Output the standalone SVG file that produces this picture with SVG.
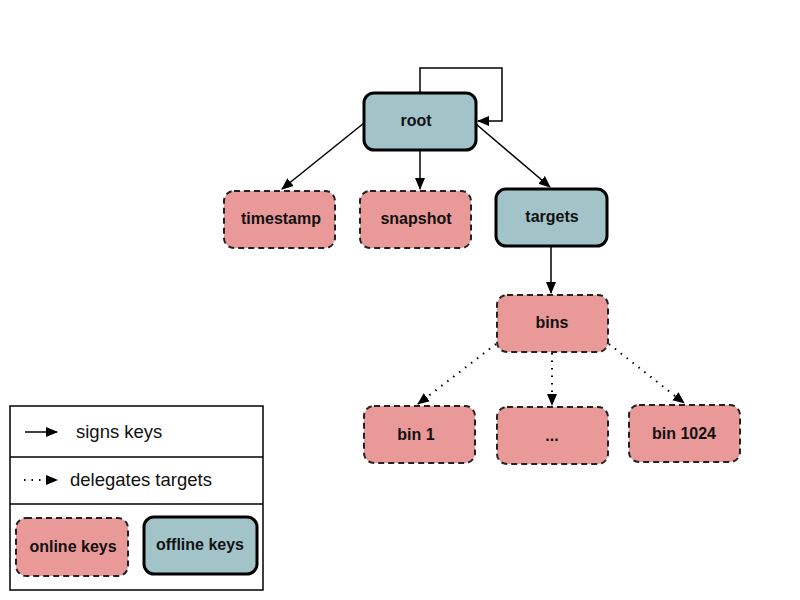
<svg xmlns="http://www.w3.org/2000/svg" width="800" height="600" viewBox="0 0 800 600">
<defs>
<marker id="ah" markerWidth="12" markerHeight="12" refX="11" refY="6" orient="auto" markerUnits="userSpaceOnUse">
<path d="M0,1 L12,6 L0,11 Z" fill="#000"/>
</marker>
<style>
.online{fill:#ea9999;stroke:#222;stroke-width:2;stroke-dasharray:6,4}
.offline{fill:#a2c4c9;stroke:#000;stroke-width:3}
.lbl{font-family:"Liberation Sans",Arial,sans-serif;font-size:16px;font-weight:bold;fill:#111;text-anchor:middle}
.leg{font-family:"Liberation Sans",Arial,sans-serif;font-size:18.5px;fill:#111}
.edge{stroke:#000;stroke-width:1.5;fill:none;marker-end:url(#ah)}
.dot{stroke:#000;stroke-width:2;fill:none;stroke-dasharray:1.5,6;marker-end:url(#ah)}
</style>
</defs>
<rect width="800" height="600" fill="#fff"/>
<g id="connectors">
<path class="edge" d="M420,93 V68 H502 V121 H478"/>
<line class="edge" x1="364" y1="123" x2="282" y2="189"/>
<line class="edge" x1="420" y1="151" x2="420" y2="189"/>
<line class="edge" x1="476" y1="124" x2="550" y2="187"/>
<line class="edge" x1="551" y1="246" x2="551" y2="293"/>
<line class="dot" x1="496" y1="344" x2="418" y2="404"/>
<line class="dot" x1="552" y1="353" x2="552" y2="405"/>
<line class="dot" x1="609" y1="344" x2="684" y2="403"/>
</g>
<g id="root"><rect class="offline" x="364" y="93" width="112" height="57" rx="10"/><text class="lbl" x="416" y="126">root</text></g>
<g id="timestamp"><rect class="online" x="224" y="191" width="111" height="57" rx="10"/><text class="lbl" x="281" y="224">timestamp</text></g>
<g id="snapshot"><rect class="online" x="360" y="191" width="111" height="57" rx="10"/><text class="lbl" x="416" y="224">snapshot</text></g>
<g id="targets"><rect class="offline" x="496" y="189" width="111" height="57" rx="10"/><text class="lbl" x="552" y="222">targets</text></g>
<g id="bins"><rect class="online" x="497" y="295" width="111" height="57" rx="10"/><text class="lbl" x="552" y="328">bins</text></g>
<g id="bin1"><rect class="online" x="364" y="406" width="111" height="57" rx="10"/><text class="lbl" x="416" y="440">bin 1</text></g>
<g id="binmid"><rect class="online" x="497" y="407" width="111" height="57" rx="10"/><text class="lbl" x="552" y="441">...</text></g>
<g id="bin1024"><rect class="online" x="629" y="405" width="111" height="57" rx="10"/><text class="lbl" x="684" y="439">bin 1024</text></g>
<g id="legend">
<rect x="10" y="406" width="253" height="184" fill="#fff" stroke="#000" stroke-width="1.5"/>
<line x1="10" y1="457" x2="263" y2="457" stroke="#000" stroke-width="1.5"/>
<line x1="10" y1="504" x2="263" y2="504" stroke="#000" stroke-width="1.5"/>
<line class="edge" x1="25" y1="432" x2="57" y2="432"/>
<text class="leg" x="76" y="438">signs keys</text>
<line class="dot" x1="24" y1="480" x2="57" y2="480"/>
<text class="leg" x="70" y="486">delegates targets</text>
<rect class="online" x="16" y="518" width="112" height="58" rx="10"/>
<text class="lbl" x="73" y="552">online keys</text>
<rect class="offline" x="144" y="517" width="113" height="57" rx="10"/>
<text class="lbl" x="200" y="550">offline keys</text>
</g>
</svg>
